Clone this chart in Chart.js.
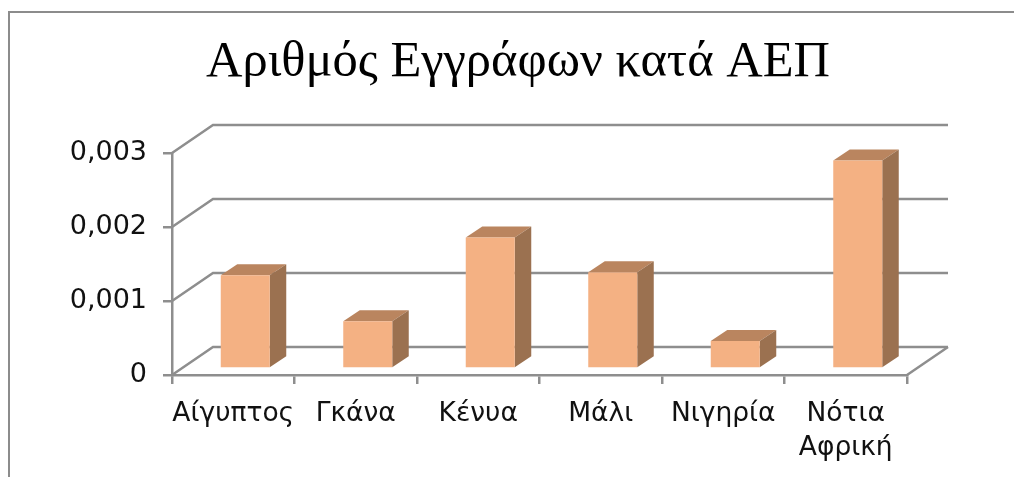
<!DOCTYPE html>
<html>
<head>
<meta charset="utf-8">
<script src="https://cdn.jsdelivr.net/npm/chart.js@4"></script>
<style>
   html, body { margin: 0; padding: 0; background: #fff; overflow: hidden; }
   .chart { position: relative; width: 1014px; height: 477px; }
   .chart canvas { display: block; filter: blur(0.4px); }
   .chart__frame { position: absolute; left: 8px; top: 11px; right: 0; bottom: 0; border-left: 2px solid #8c8c8c; border-top: 2px solid #8c8c8c; }
</style>
</head>
<body>
<div class="chart">
   <canvas id="myChart" width="1014" height="477"></canvas>
   <div class="chart__frame"></div>
</div>
<script>
const titleText = 'Αριθμός Εγγράφων κατά ΑΕΠ';
const categories = ['Αίγυπτος', 'Γκάνα', 'Κένυα', 'Μάλι', 'Νιγηρία', ['Νότια', 'Αφρική']];
const values = [0.00126, 0.00064, 0.00177, 0.0013, 0.00037, 0.00281];

const gridColor = '#8e8e8e';
const depth = { x: 41, y: 28 };      // back wall offset
const barDepth = { x: 16.5, y: 11 }; // depth of a bar
const barShift = { x: 12, y: -6.5 }; // bars stand in the middle of the floor

const fake3d = {
   id: 'fake3d',
   afterLayout(chart) {
      // title is centred a bit off the middle of the canvas
      chart.titleBlock.left = 22;
      chart.titleBlock.right = 1014;
   },
   beforeDatasetsDraw(chart) {
      const { ctx, chartArea, scales } = chart;
      ctx.save();
      ctx.strokeStyle = gridColor;
      ctx.lineWidth = 2.5;
      scales.y.ticks.forEach(tick => {
         const y = scales.y.getPixelForValue(tick.value);
         ctx.beginPath();
         ctx.moveTo(chartArea.left, y);
         ctx.lineTo(chartArea.left + depth.x, y - depth.y);
         ctx.lineTo(chartArea.right + depth.x, y - depth.y);
         ctx.stroke();
      });
      // right edge of the floor
      ctx.beginPath();
      ctx.moveTo(chartArea.right, chartArea.bottom);
      ctx.lineTo(chartArea.right + depth.x, chartArea.bottom - depth.y);
      ctx.stroke();
      ctx.restore();

      ctx.save();
      ctx.translate(barShift.x, barShift.y);
      chart.getDatasetMeta(0).data.forEach(bar => {
         const left = bar.x - bar.width / 2;
         const right = bar.x + bar.width / 2;
         ctx.fillStyle = '#ba855f';
         ctx.beginPath();
         ctx.moveTo(left, bar.y);
         ctx.lineTo(left + barDepth.x, bar.y - barDepth.y);
         ctx.lineTo(right + barDepth.x, bar.y - barDepth.y);
         ctx.lineTo(right, bar.y);
         ctx.fill();
         ctx.fillStyle = '#9b7150';
         ctx.beginPath();
         ctx.moveTo(right, bar.y);
         ctx.lineTo(right + barDepth.x, bar.y - barDepth.y);
         ctx.lineTo(right + barDepth.x, bar.base - barDepth.y);
         ctx.lineTo(right, bar.base);
         ctx.fill();
      });
   },
   afterDatasetsDraw(chart) {
      chart.ctx.restore();
   }
};

const myChart = new Chart(document.getElementById('myChart'), {
   type: 'bar',
   data: {
      labels: categories,
      datasets: [{
         data: values,
         backgroundColor: '#f4b183',
         borderWidth: 0,
         barPercentage: 0.4,
         categoryPercentage: 1,
         clip: false,
      }]
   },
   plugins: [fake3d],
   options: {
      responsive: false,
      animation: false,
      layout: {
         padding: { left: 22, right: 107, top: 32, bottom: 0 }
      },
      plugins: {
         legend: { display: false },
         tooltip: { enabled: false },
         title: {
            display: true,
            text: titleText,
            color: '#000',
            font: { family: '"Liberation Serif"', size: 50.5, weight: 'normal' },
            padding: { top: 0, bottom: 60.4 },
         }
      },
      scales: {
         x: {
            afterFit: scale => { scale.height = 102; },
            border: { color: gridColor, width: 2.5 },
            grid: { color: gridColor, lineWidth: 2.5, drawOnChartArea: false, tickLength: 9, offset: true },
            ticks: {
               color: '#111',
               maxRotation: 0,
               autoSkip: false,
               padding: 13,
               font: { family: '"DejaVu Sans"', size: 26.5, lineHeight: 1.28 },
            }
         },
         y: {
            min: 0,
            max: 0.003,
            afterFit: scale => { scale.width = 150; },
            border: { color: gridColor, width: 2.5 },
            grid: { color: gridColor, lineWidth: 2.5, drawOnChartArea: false, tickLength: 9 },
            ticks: {
               stepSize: 0.001,
               color: '#111',
               padding: 16,
               font: { family: '"DejaVu Sans"', size: 27 },
               callback: v => v === 0 ? '0' : v.toFixed(3).replace('.', ','),
            }
         }
      }
   }
});
</script>
</body>
</html>
